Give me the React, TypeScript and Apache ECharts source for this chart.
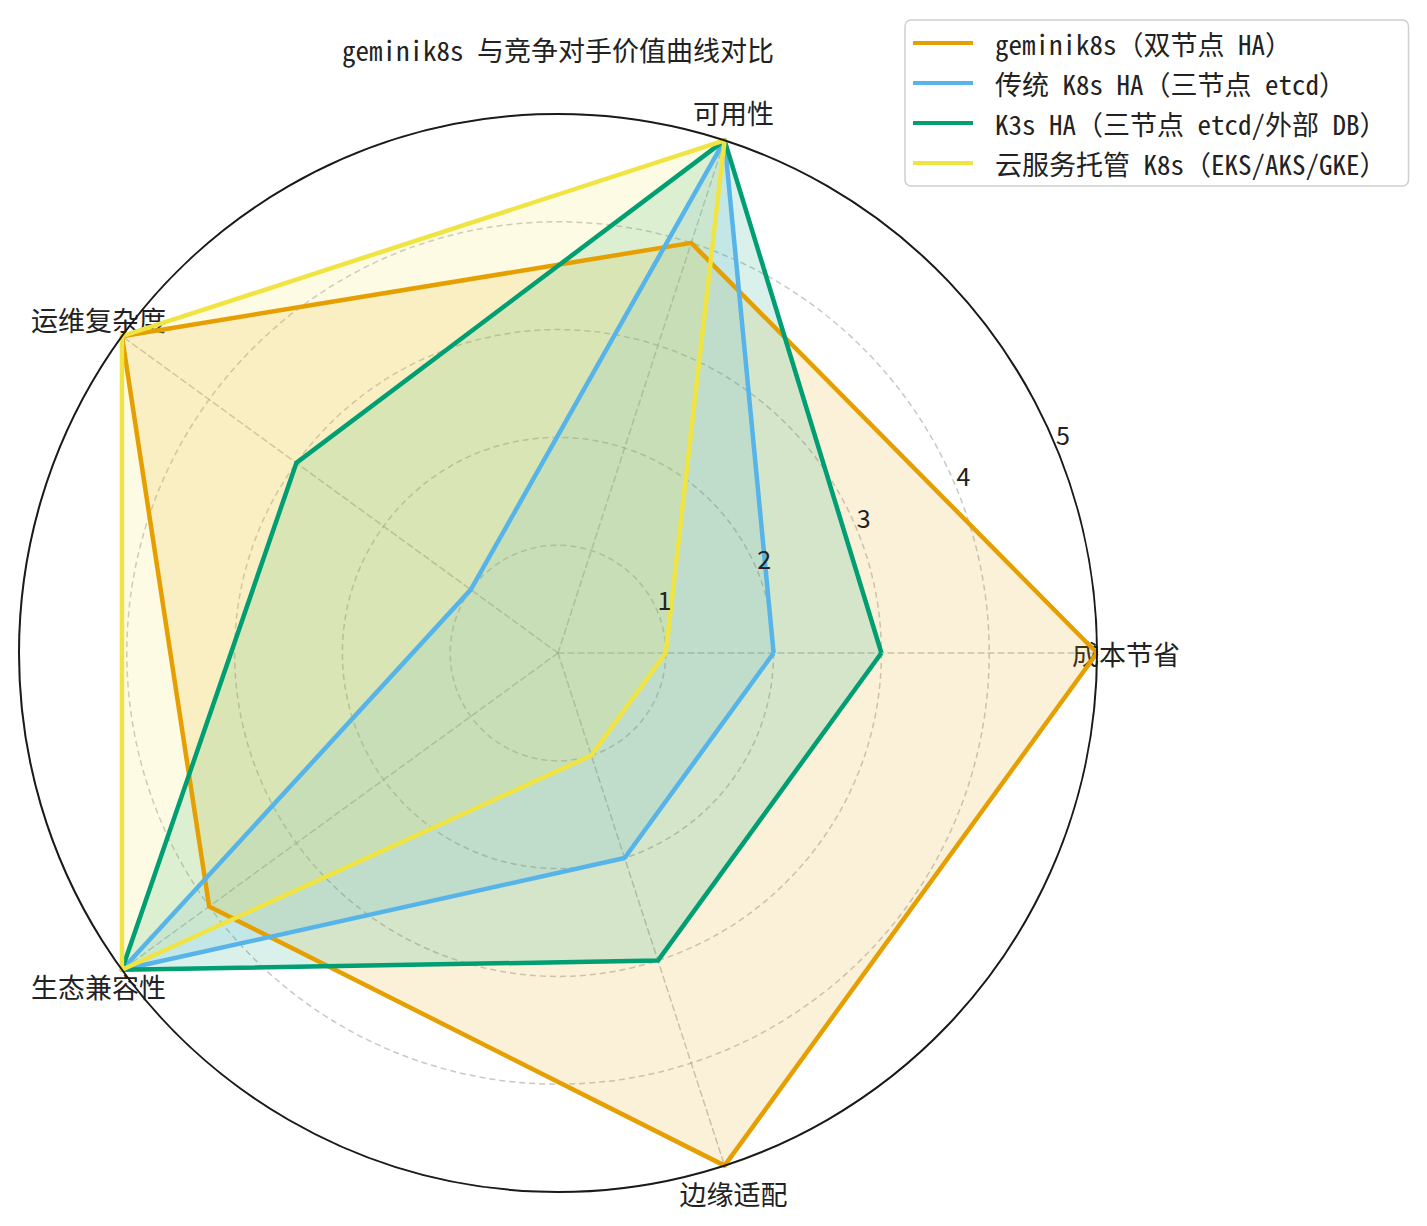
import React, { useEffect, useRef } from 'react';
import * as echarts from 'echarts';

const categories = ['成本节省', '可用性', '运维复杂度', '生态兼容性', '边缘适配'];
const seriesNames = [
  'geminik8s（双节点 HA）',
  '传统 K8s HA（三节点 etcd）',
  'K3s HA（三节点 etcd/外部 DB）',
  '云服务托管 K8s（EKS/AKS/GKE）',
];
const geminik8sValues = [5, 4, 5, 4, 5];
const traditionalK8sValues = [2, 5, 1, 5, 2];
const k3sValues = [3, 5, 3, 5, 3];
const managedK8sValues = [1, 5, 5, 5, 1];
const radialTicks = [1, 2, 3, 4, 5];
const titleText = 'geminik8s 与竞争对手价值曲线对比';

const colors = ['#E69F00', '#56B4E9', '#009E73', '#F0E442'];
const monoFont = '"Noto Sans Mono CJK SC", "DejaVu Sans Mono", "Noto Sans CJK SC", monospace';
const sansFont = '"Noto Sans CJK SC", "DejaVu Sans", sans-serif';

const CX = 558;
const CY = 653;
const R = 539;
const gridLine = { color: 'rgba(170,170,170,0.65)', width: 1.5, type: [6, 4] as any };

export default function App() {
  const ref = useRef<HTMLDivElement>(null);
  useEffect(() => {
    if (!ref.current) return;
    const chart = echarts.init(ref.current, null, { renderer: 'svg' });
    const allValues = [geminik8sValues, traditionalK8sValues, k3sValues, managedK8sValues];
    const fillSeries = allValues.map((vals, i) => ({
      type: 'radar',
      name: seriesNames[i],
      symbol: 'none',
      color: colors[i],
      z: 2,
      lineStyle: { width: 0, opacity: 0 },
      areaStyle: { color: colors[i], opacity: 0.15 },
      data: [{ name: seriesNames[i], value: vals }],
    }));
    const lineSeries = allValues.map((vals, i) => ({
      type: 'radar',
      name: seriesNames[i],
      symbol: 'none',
      color: colors[i],
      z: 3,
      lineStyle: { color: colors[i], width: 4.5, join: 'round' },
      data: [{ name: seriesNames[i], value: vals }],
    }));
    chart.setOption({
      animation: false,
      backgroundColor: '#ffffff',
      title: {
        text: titleText,
        left: CX,
        top: 36,
        textAlign: 'center',
        padding: 0,
        textStyle: { fontFamily: monoFont, fontSize: 27, fontWeight: 'normal', color: '#222' },
      },
      legend: {
        data: seriesNames,
        orient: 'vertical',
        left: 905,
        top: 20,
        padding: [8, 22, 8, 8],
        itemGap: 10,
        itemWidth: 60,
        itemHeight: 4,
        icon: 'rect',
        borderColor: '#cfcfcf',
        borderWidth: 1.5,
        borderRadius: 6,
        backgroundColor: 'rgba(255,255,255,0.85)',
        textStyle: {
          fontFamily: monoFont,
          fontSize: 27,
          lineHeight: 30,
          color: '#222',
          padding: [0, 0, 0, 17],
        },
      },
      radar: {
        center: [CX, CY],
        radius: R,
        startAngle: 0,
        clockwise: false,
        shape: 'circle',
        splitNumber: 5,
        indicator: categories.map((name) => ({ name, min: 0, max: 5 })),
        axisNameGap: 29,
        axisName: {
          color: '#222',
          fontSize: 27,
          fontFamily: sansFont,
          align: 'center',
          verticalAlign: 'middle',
        },
        axisLine: { show: true, lineStyle: gridLine },
        splitLine: { show: true, lineStyle: gridLine },
        splitArea: { show: false },
        axisTick: { show: false },
        axisLabel: { show: false },
      },
      polar: { center: [CX, CY], radius: R },
      angleAxis: {
        type: 'value',
        min: 0,
        max: 360,
        startAngle: 22.5,
        z: 5,
        axisLine: { show: true, lineStyle: { color: '#1a1a1a', width: 2 } },
        axisTick: { show: false },
        axisLabel: { show: false },
        splitLine: { show: false },
      },
      radiusAxis: {
        type: 'value',
        min: 0,
        max: 5,
        interval: 1,
        z: 5,
        axisLine: { show: false },
        axisTick: { show: false },
        splitLine: { show: false },
        axisLabel: {
          show: true,
          margin: 0,
          align: 'left',
          verticalAlign: 'bottom',
          fontSize: 25,
          fontFamily: sansFont,
          color: '#222',
          formatter: (v: number) => (radialTicks.includes(v) ? String(v) : ''),
        },
      },
      series: [...fillSeries, ...lineSeries],
    });
    return () => chart.dispose();
  }, []);
  return (
    <div
      ref={ref}
      style={{ position: 'absolute', left: 0, top: 0, width: 1427, height: 1226 }}
    />
  );
}
